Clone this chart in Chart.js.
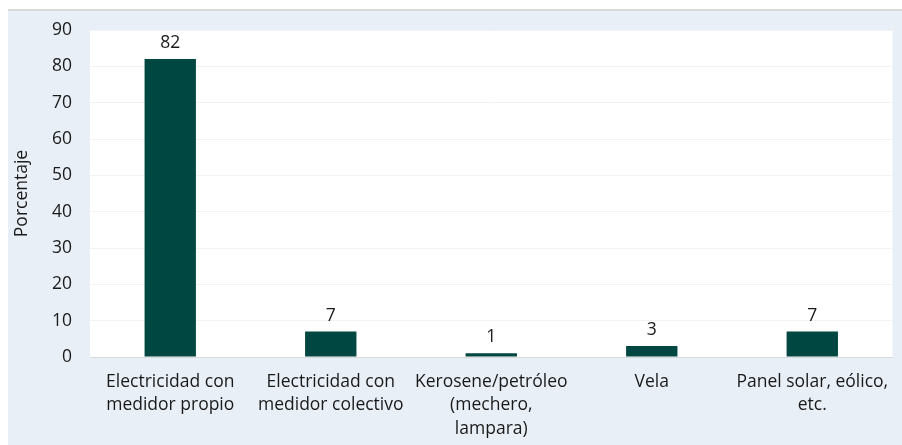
<!DOCTYPE html>
<html>
<head>
<meta charset="utf-8">
<script src="https://cdn.jsdelivr.net/npm/chart.js@4.4.1/dist/chart.umd.min.js"></script>
<style>
  html, body { margin: 0; padding: 0; background: #fff; }
  #wrap { width: 902px; height: 445px; }
</style>
</head>
<body>
<div id="wrap"><canvas id="chart" width="902" height="445"></canvas></div>
<script>
const categories = [
  ['Electricidad con', 'medidor propio'],
  ['Electricidad con', 'medidor colectivo'],
  ['Kerosene/petróleo', '(mechero,', 'lampara)'],
  'Vela',
  ['Panel solar, eólico,', 'etc.']
];
const values = [82, 7, 1, 3, 7];
const yTicks = [0, 10, 20, 30, 40, 50, 60, 70, 80, 90];

const FONT = '"Open Sans", sans-serif';
const FSIZE = 17.5;
const TEXT = '#1a1a1a';

// background panel + white plot area
const panelBg = {
  id: 'panelBg',
  beforeDraw(chart) {
    const { ctx, chartArea: a, width, height } = chart;
    ctx.save();
    ctx.fillStyle = '#e9eff6';
    ctx.fillRect(8, 11, width - 8, height - 11);
    ctx.fillStyle = '#d9d9d9';
    ctx.fillRect(8, 9, width - 8, 2);
    ctx.fillStyle = '#ffffff';
    ctx.fillRect(a.left, a.top, a.right - a.left, a.bottom - a.top);
    ctx.restore();
  }
};

// value labels on top of bars
const barValues = {
  id: 'barValues',
  afterDatasetsDraw(chart) {
    const { ctx } = chart;
    const meta = chart.getDatasetMeta(0);
    ctx.save();
    ctx.font = FSIZE + 'px ' + FONT;
    ctx.fillStyle = TEXT;
    ctx.textAlign = 'center';
    ctx.textBaseline = 'alphabetic';
    meta.data.forEach((bar, i) => {
      ctx.fillText(values[i], bar.x, bar.y - 11);
    });
    ctx.restore();
  }
};

new Chart(document.getElementById('chart').getContext('2d'), {
  type: 'bar',
  data: {
    labels: categories,
    datasets: [{
      data: values,
      backgroundColor: '#004741',
      borderWidth: 0,
      barPercentage: 0.32,
      categoryPercentage: 1
    }]
  },
  options: {
    responsive: false,
    animation: false,
    layout: { padding: { left: 12, top: 30, right: 9, bottom: 0 } },
    plugins: { legend: { display: false }, tooltip: { enabled: false } },
    scales: {
      x: {
        grid: { display: false, drawTicks: false },
        border: { color: '#d9d9d9', width: 1 },
        ticks: {
          color: TEXT, font: { family: FONT, size: FSIZE, lineHeight: 1.35 }, padding: 13,
          maxRotation: 0, autoSkip: false
        },
        afterFit(scale) { scale.height = 88; }
      },
      y: {
        min: 0, max: 90,
        afterBuildTicks(scale) { scale.ticks = yTicks.map(v => ({ value: v })); },
        grid: { color: '#f2f2f2', drawTicks: false },
        border: { display: false },
        ticks: { color: TEXT, font: { family: FONT, size: FSIZE }, padding: 18 },
        title: {
          display: true, text: 'Porcentaje', color: TEXT,
          font: { family: FONT, size: FSIZE }, padding: { top: 0, bottom: 2 }
        },
        afterFit(scale) { scale.width = 78; }
      }
    }
  },
  plugins: [panelBg, barValues]
});
</script>
</body>
</html>
